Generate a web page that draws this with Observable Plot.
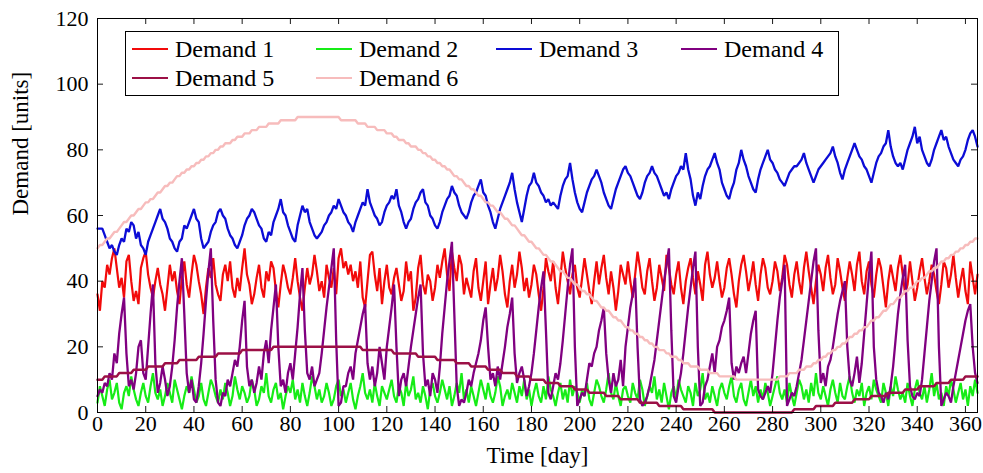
<!DOCTYPE html>
<html>
<head>
<meta charset="utf-8">
<script src="https://cdn.jsdelivr.net/npm/d3@7"></script>
<script src="https://cdn.jsdelivr.net/npm/@observablehq/plot@0.6"></script>
<style>
  html, body { margin: 0; padding: 0; background: white; }
  #wrap { position: relative; width: 983px; height: 473px; overflow: hidden; }
  #wrap svg { display: block; }
  #legend {
    position: absolute; left: 125px; top: 31px; width: 714px; height: 65px;
    border: 1px solid black; background: white; box-sizing: border-box;
    font-family: "Liberation Serif", serif; font-size: 24px; color: black;
  }
  .item { position: absolute; height: 30px; display: flex; align-items: center; white-space: nowrap; }
  .swatch { display: inline-block; width: 36px; height: 2.4px; margin-right: 7px; }
</style>
</head>
<body>
<div id="wrap"><div id="legend"></div></div>
<script>
// ---- data ----
const seriesNames = ["Demand 1", "Demand 2", "Demand 3", "Demand 4", "Demand 5", "Demand 6"];
const seriesColors = ["#f20a0a", "#16ec16", "#0c0cd6", "#800080", "#9c1046", "#f7bcbc"];
const xTicks = [0,20,40,60,80,100,120,140,160,180,200,220,240,260,280,300,320,340,360];
const yTicks = [0,20,40,60,80,100,120];

const demand1 = [
36,31,40,38,45,42,47,50,44,38,41,35,46,48,40,34,37,33,44,47,
49,42,38,35,40,44,39,36,31,38,45,40,43,37,33,41,46,39,35,42,
48,45,40,36,30,38,44,41,47,39,36,34,42,45,40,46,38,35,41,37,
44,50,42,39,33,36,41,45,38,35,43,40,46,44,37,32,39,45,42,38,
36,41,47,40,35,31,38,44,39,42,48,43,37,40,35,45,41,38,44,36,
47,50,44,46,42,45,40,43,38,46,35,32,40,48,49,42,37,44,33,40,
45,38,36,41,44,39,34,37,46,40,43,31,35,44,48,39,36,42,40,34,
38,45,41,46,50,42,37,49,44,40,48,45,36,41,38,35,43,47,38,34,
40,46,33,39,44,37,41,48,43,36,32,40,45,38,42,49,44,37,41,35,
39,45,42,36,31,38,47,43,40,46,38,33,41,49,44,40,36,42,45,38,
35,41,47,42,37,33,40,46,39,44,48,41,36,43,38,31,37,45,42,39,
46,40,35,42,49,44,38,36,43,47,40,34,38,45,41,37,48,44,39,36,
42,46,38,33,40,44,47,41,36,43,39,34,45,49,42,38,41,46,40,35,
38,44,47,42,36,32,40,45,48,43,37,41,46,39,34,42,47,44,38,36,
40,46,43,37,41,48,45,39,35,42,46,40,36,44,49,43,38,33,40,45,
42,37,44,48,41,36,39,47,43,38,34,41,46,42,37,45,49,40,36,43,
46,39,35,42,47,44,38,32,40,45,41,37,44,48,42,36,39,46,40,34,
38,43,47,41,36,40,45,42,37,33,39,46,44,38,42,48,41,35,40,44,
37,33,46,41,36,42];

const demand2 = [
3,8,5,2,7,10,4,6,9,3,1,6,8,5,11,7,4,2,6,9,
5,3,8,12,6,4,7,2,5,9,6,3,10,7,4,1,5,8,6,11,
7,3,5,9,4,2,6,10,8,5,3,7,4,9,6,2,5,11,7,4,
8,6,3,5,10,7,2,4,8,6,12,5,3,7,9,4,6,1,5,8,
6,10,4,7,3,9,5,2,6,11,8,4,7,3,5,9,6,2,4,8,
10,5,7,3,6,9,4,1,5,8,12,6,4,7,3,9,5,2,8,6,
4,7,10,5,3,8,6,2,9,5,7,11,4,6,3,8,5,1,7,9,
5,3,6,10,7,4,8,2,5,9,6,12,4,7,3,8,5,2,6,10,
7,4,9,5,3,6,11,8,2,5,7,4,9,6,3,8,5,10,4,7,
2,6,9,5,3,8,4,11,7,5,2,6,9,4,7,3,10,5,8,6,
3,7,5,9,4,2,6,10,8,5,3,7,12,6,4,9,5,2,7,8,
5,3,9,6,4,10,7,2,5,8,6,11,4,7,3,9,5,1,6,8,
4,10,7,5,3,8,6,2,9,5,7,12,4,6,3,8,5,2,7,9,
6,4,8,11,5,3,7,9,4,2,6,10,5,8,3,7,4,9,6,2,
5,8,11,6,4,7,3,9,5,2,6,10,8,4,7,3,9,5,12,6,
4,8,5,2,7,10,6,3,9,5,4,8,11,6,3,7,5,9,2,6,
8,4,10,7,5,3,9,6,2,8,5,11,7,4,6,3,9,5,2,7,
10,6,4,8,3,7,12,5,9,4,6,2,8,5,10,7,3,6,9,4,
7,2,8,5,10,6];

const demand3 = [
56,56,56,54,52,50,51,49,48,51,53,52,56,55,58,57,53,55,51,50,
48,52,54,56,58,60,62,59,58,56,53,52,50,49,52,53,57,56,58,60,
62,59,58,53,50,51,52,55,57,58,61,62,60,59,56,54,53,51,50,52,
54,57,59,60,62,61,59,57,56,53,52,55,54,58,60,62,65,61,60,57,
55,53,52,57,60,63,61,62,58,56,54,53,54,55,57,58,60,61,63,62,
65,63,61,60,58,57,55,58,60,62,64,63,68,64,62,60,59,57,58,61,
63,64,66,65,68,63,61,58,56,58,59,62,64,65,67,68,64,63,60,59,
57,56,58,61,63,65,66,69,67,66,63,61,60,59,61,64,66,67,69,71,
67,66,63,61,58,56,59,62,64,66,68,70,73,68,64,61,58,62,66,69,
70,73,70,69,67,66,64,65,63,64,63,62,66,69,71,72,76,71,67,64,
62,61,64,67,69,71,72,74,72,70,67,65,63,62,65,68,70,72,74,75,
73,72,70,68,66,65,67,70,72,73,75,73,72,70,68,66,67,65,68,70,
72,73,75,74,79,74,71,66,63,67,65,69,72,74,75,77,79,76,74,70,
68,66,65,68,70,74,76,80,77,75,72,70,68,67,71,74,76,78,80,77,
76,74,73,71,70,69,71,73,74,75,75,76,77,79,76,74,72,70,72,74,
75,76,77,78,79,81,78,76,73,71,74,76,78,80,82,80,78,77,75,74,
72,70,73,76,78,79,81,82,86,81,78,76,75,76,74,77,80,82,84,87,
82,84,80,78,76,75,77,80,82,84,86,83,84,81,79,77,76,75,77,78,
80,83,85,86,84,81];

const demand4 = [
5,7,6,9,8,12,10,18,15,24,30,35,
18,8,10,7,12,20,22,12,10,20,30,39,
15,6,9,14,10,5,8,14,22,32,40,47,
30,12,6,10,4,3,8,15,24,34,43,50,
28,10,3,2,6,5,10,8,12,16,14,20,28,34,
14,8,10,6,9,14,10,18,22,15,25,32,39,
20,8,10,6,12,15,10,18,26,36,44,
25,12,10,14,8,10,12,18,25,32,38,44,50,
22,2,3,8,8,12,14,10,18,22,26,30,33,
15,10,14,8,12,20,15,10,20,26,32,39,
20,5,10,12,8,14,20,25,30,35,39,
18,8,10,5,12,10,6,14,24,32,40,46,52,
30,8,2,4,3,6,10,8,12,15,18,22,28,32,
20,10,12,8,14,10,15,20,26,30,35,
18,9,12,14,10,5,8,12,18,25,32,38,43,
25,6,4,8,12,10,15,22,30,38,45,50,
20,2,4,6,5,10,15,14,18,20,25,28,32,
18,10,6,12,8,10,16,8,20,26,32,36,41,
20,4,2,3,5,8,12,16,22,28,34,40,45,50,
25,5,3,8,12,18,25,32,38,44,49,
20,2,3,8,10,14,18,12,20,22,26,28,31,35,
15,10,14,12,15,17,12,18,24,28,31,
7,5,4,6,8,6,12,20,28,35,40,45,
2,4,6,5,8,12,16,22,28,34,40,46,50,
25,9,12,8,14,16,20,25,30,34,37,40,
20,10,8,12,17,9,15,24,33,42,49,
20,10,6,5,3,6,4,8,14,22,30,36,41,45,
22,8,5,4,6,5,10,18,26,34,40,46,50,
20,2,4,6,5,3,8,12,16,20,24,28,31,33,
20,12,9];

const demand5 = [
10,10,10,11,11,11,11,11,11,12,12,12,12,12,12,13,13,13,13,13,
13,14,14,14,14,14,14,14,15,15,15,15,15,15,16,16,16,16,16,16,
16,16,17,17,17,17,17,17,17,17,18,18,18,18,18,18,18,18,18,18,
19,19,19,19,19,19,19,19,19,19,19,19,19,20,20,20,20,20,20,20,
20,20,20,20,20,20,20,20,20,20,20,20,20,20,20,20,20,20,20,20,
20,20,20,20,20,20,20,20,20,20,19,19,19,19,19,19,19,19,19,19,
19,19,19,18,18,18,18,18,18,18,18,18,18,17,17,17,17,17,17,17,
17,16,16,16,16,16,16,16,16,15,15,15,15,15,15,14,14,14,14,14,
14,14,13,13,13,13,13,13,12,12,12,12,12,12,11,11,11,11,11,11,
10,10,10,10,10,10,9,9,9,9,9,9,8,8,8,8,8,8,7,7,
7,7,7,7,6,6,6,6,6,6,6,5,5,5,5,5,5,4,4,4,
4,4,4,4,4,3,3,3,3,3,3,3,3,2,2,2,2,2,2,2,
2,2,2,1,1,1,1,1,1,1,1,1,1,1,1,1,0,0,0,0,
0,0,0,0,0,0,0,0,0,0,0,0,0,0,0,0,0,0,0,0,
0,0,0,0,0,0,0,0,0,1,1,1,1,1,1,1,1,1,2,2,
2,2,2,2,2,2,3,3,3,3,3,3,3,3,4,4,4,4,4,4,
4,5,5,5,5,5,5,5,6,6,6,6,6,6,6,7,7,7,7,7,
7,8,8,8,8,8,8,8,9,9,9,9,9,9,10,10,10,10,10,10,
11,11,11,11,11,11];

const demand6 = [
50,51,51,52,53,53,54,55,55,56,57,58,58,59,60,60,61,62,62,63,
64,64,65,65,66,67,67,68,69,69,70,70,71,72,72,73,73,74,74,75,
75,76,76,77,77,78,78,79,79,80,80,81,81,82,82,82,83,83,84,84,
84,85,85,85,86,86,86,87,87,87,87,88,88,88,88,88,89,89,89,89,
89,89,89,90,90,90,90,90,90,90,90,90,90,90,90,90,90,90,90,90,
90,89,89,89,89,89,89,89,88,88,88,88,87,87,87,87,86,86,86,86,
85,85,85,84,84,83,83,83,82,82,81,81,81,80,80,79,79,78,78,77,
77,76,76,75,75,74,74,73,72,72,71,71,70,69,69,68,68,67,66,66,
65,64,64,63,63,62,61,61,60,59,59,58,57,57,56,55,54,54,53,52,
52,51,50,50,49,48,48,47,46,46,45,44,43,43,42,41,41,40,39,39,
38,37,37,36,36,35,34,34,33,32,32,31,31,30,29,29,28,28,27,26,
26,25,25,24,24,23,23,22,22,21,21,20,20,19,19,19,18,18,17,17,
17,16,16,15,15,15,14,14,14,14,13,13,13,13,12,12,12,12,11,11,
11,11,11,11,11,10,10,10,10,10,10,10,10,10,10,10,10,10,10,10,
10,10,10,11,11,11,11,12,12,12,12,13,13,13,14,14,14,15,15,16,
16,17,17,18,18,19,19,20,20,21,21,22,23,23,24,24,25,25,26,26,
27,28,28,29,29,30,31,31,32,33,33,34,35,35,36,37,37,38,38,39,
40,40,41,41,42,43,43,44,44,45,46,46,47,47,48,48,49,49,50,50,
51,51,52,52,53,53];

const allSeries = [demand1, demand2, demand3, demand4, demand5, demand6];

// ---- build table ----
const table = allSeries.map((vals, k) => vals.map((v, i) => ({day: i, value: v, series: seriesNames[k]})));

const W = 983, H = 473, mL = 97, mR = 6, mT = 18, mB = 61;
const iw = W - mL - mR, ih = H - mT - mB, tk = 6;
const widths = [2.2, 2.2, 2.3, 2.3, 2.5, 2.4];

const chart = Plot.plot({
  width: W, height: H,
  marginLeft: mL, marginRight: mR, marginTop: mT, marginBottom: mB,
  x: {domain: [0, 365]},
  y: {domain: [0, 120]},
  style: {fontFamily: "'Liberation Serif', serif", fontSize: "22px", background: "white", color: "black", overflow: "visible"},
  marks: [
    ...table.map((rows, k) => Plot.line(rows, {x: "day", y: "value", stroke: seriesColors[k], strokeWidth: widths[k], strokeLinejoin: "miter"})),
    Plot.frame({stroke: "black", strokeWidth: 1}),
    Plot.tickX(xTicks, {x: d => d, insetTop: ih - tk, stroke: "black", strokeWidth: 0.9}),
    Plot.tickX(xTicks, {x: d => d, insetBottom: ih - tk, stroke: "black", strokeWidth: 0.9}),
    Plot.tickY(yTicks, {y: d => d, insetRight: iw - tk, stroke: "black", strokeWidth: 0.9}),
    Plot.tickY(yTicks, {y: d => d, insetLeft: iw - tk, stroke: "black", strokeWidth: 0.9}),
    Plot.axisX(xTicks, {tickSize: 0, tickPadding: 3, label: null, fontSize: 22}),
    Plot.axisY(yTicks, {tickSize: 0, tickPadding: 9, label: null, fontSize: 22}),
    Plot.text(["Time [day]"], {frameAnchor: "bottom", dy: 50, fontSize: 23}),
    Plot.text(["Demand [units]"], {frameAnchor: "left", dx: -77, rotate: -90, fontSize: 23})
  ]
});
document.getElementById("wrap").prepend(chart);

// ---- legend ----
const legend = document.getElementById("legend");
const colLeft = [6, 190, 370, 555];
seriesNames.forEach((name, k) => {
  const col = k % 4, row = Math.floor(k / 4);
  const item = document.createElement("div");
  item.className = "item";
  item.style.left = colLeft[col] + "px";
  item.style.top = (2 + row * 29) + "px";
  const sw = document.createElement("span");
  sw.className = "swatch";
  sw.style.background = seriesColors[k];
  item.appendChild(sw);
  item.appendChild(document.createTextNode(name));
  legend.appendChild(item);
});
</script>
</body>
</html>
